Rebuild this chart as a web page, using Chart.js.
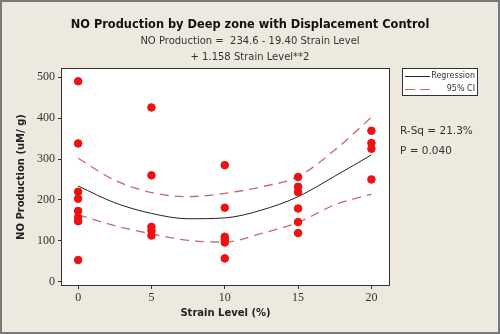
<!DOCTYPE html>
<html>
<head>
<meta charset="utf-8">
<script src="https://cdn.jsdelivr.net/npm/chart.js@4"></script>
<style>
  html, body { margin: 0; padding: 0; background: #ede9df; }
</style>
</head>
<body>
<canvas id="chart" width="500" height="334"></canvas>
<script>
// observed NO production per strain level
var strainLevel = [0, 0, 0, 0, 0, 0, 0, 0,
                   5, 5, 5, 5, 5,
                   10, 10, 10, 10, 10, 10,
                   15, 15, 15, 15, 15, 15,
                   20, 20, 20, 20];
var noProduction = [490, 338, 220, 203, 173, 157, 148, 53,
                    426, 260, 134, 125, 113,
                    285, 181, 110, 103, 96, 57,
                    256, 232, 219, 179, 146, 119,
                    369, 339, 325, 250];

// fitted line and 95% CI
var fitX = [0, 2.5, 5, 7.5, 10, 12.5, 15, 17.5, 20];
var fitY = [234, 193, 167, 154, 156, 175, 208, 258, 310];
var ciUpper = [302, 248, 218, 208, 216, 232, 257, 322, 402];
var ciLower = [164, 137, 117, 101, 97, 118, 145, 188, 214];

var xTicks = [0, 5, 10, 15, 20];
var yTicks = [0, 100, 200, 300, 400, 500];

function pts(xs, ys) {
  return xs.map((x, i) => ({x: x, y: ys[i]}));
}

var tickFont = {family: "'Liberation Serif', serif", size: 12};
var sans = "'DejaVu Sans', sans-serif";

var decor = {
  id: 'decor',
  beforeDraw(chart) {
    var ctx = chart.ctx, a = chart.chartArea;
    ctx.save();
    ctx.fillStyle = '#ede9df';
    ctx.fillRect(0, 0, chart.width, chart.height);
    ctx.strokeStyle = '#7a7a7a';
    ctx.lineWidth = 2;
    ctx.strokeRect(1, 1, chart.width - 2, chart.height - 2);
    ctx.fillStyle = '#ffffff';
    ctx.fillRect(a.left, a.top, a.right - a.left, a.bottom - a.top);
    ctx.restore();
  },
  afterDraw(chart) {
    var ctx = chart.ctx, a = chart.chartArea;
    ctx.save();
    ctx.strokeStyle = '#333';
    ctx.lineWidth = 1;
    ctx.strokeRect(a.left - 0.5, a.top - 0.5, a.right - a.left + 1, a.bottom - a.top + 1);

    ctx.fillStyle = '#111';
    ctx.textAlign = 'center';
    ctx.textBaseline = 'middle';
    ctx.font = "bold 11.4px " + sans;
    ctx.fillText('NO Production by Deep zone with Displacement Control', 250, 25);
    ctx.font = "10px " + sans;
    ctx.fillStyle = '#333';
    ctx.fillText('NO Production =  234.6 - 19.40 Strain Level', 250, 41);
    ctx.fillText('+ 1.158 Strain Level**2', 250, 57);

    // legend box
    ctx.fillStyle = '#fff';
    ctx.fillRect(402.5, 68.5, 75, 27);
    ctx.strokeStyle = '#333';
    ctx.strokeRect(402.5, 68.5, 75, 27);
    ctx.strokeStyle = '#222';
    ctx.beginPath(); ctx.moveTo(405, 76.5); ctx.lineTo(430, 76.5); ctx.stroke();
    ctx.strokeStyle = '#c46a6a';
    ctx.setLineDash([10, 5]);
    ctx.beginPath(); ctx.moveTo(405, 89.5); ctx.lineTo(430, 89.5); ctx.stroke();
    ctx.setLineDash([]);
    ctx.fillStyle = '#333';
    ctx.textAlign = 'right';
    ctx.font = "8px " + sans;
    ctx.fillText('Regression', 475, 76);
    ctx.fillText('95% CI', 475, 89);

    ctx.textAlign = 'left';
    ctx.font = "10.5px " + sans;
    ctx.fillText('R-Sq = 21.3%', 400, 131);
    ctx.fillText('P = 0.040', 400, 151);
    ctx.restore();
  }
};

new Chart(document.getElementById('chart'), {
  type: 'scatter',
  data: {
    datasets: [
      {
        data: pts(strainLevel, noProduction),
        backgroundColor: '#ee1111',
        borderColor: '#ee1111',
        pointRadius: 3.8,
        order: 0
      },
      {
        data: pts(fitX, fitY),
        showLine: true,
        borderColor: '#222',
        borderWidth: 1,
        pointRadius: 0,
        cubicInterpolationMode: 'monotone',
        order: 1
      },
      {
        data: pts(fitX, ciUpper),
        showLine: true,
        borderColor: '#c46a6a',
        borderWidth: 1.3,
        borderDash: [9, 6],
        pointRadius: 0,
        cubicInterpolationMode: 'monotone',
        order: 2
      },
      {
        data: pts(fitX, ciLower),
        showLine: true,
        borderColor: '#c46a6a',
        borderWidth: 1.3,
        borderDash: [9, 6],
        pointRadius: 0,
        cubicInterpolationMode: 'monotone',
        order: 2
      }
    ]
  },
  options: {
    responsive: false,
    animation: false,
    devicePixelRatio: 1,
    layout: { padding: {top: 69, right: 111, left: 0, bottom: 0} },
    plugins: { legend: {display: false}, tooltip: {enabled: false} },
    scales: {
      x: {
        type: 'linear',
        min: -1.1,
        max: 21.2,
        afterBuildTicks: s => { s.ticks = xTicks.map(v => ({value: v})); },
        afterFit: s => { s.height = 49; },
        grid: { drawOnChartArea: false, drawTicks: true, tickLength: 4, color: '#333' },
        border: { display: false },
        ticks: { font: tickFont, color: '#333', padding: 2, maxRotation: 0 },
        title: { display: true, text: 'Strain Level (%)', color: '#222',
                 font: {family: sans, size: 10, weight: 'bold'}, padding: {bottom: 15} }
      },
      y: {
        min: -8,
        max: 520,
        afterBuildTicks: s => { s.ticks = yTicks.map(v => ({value: v})); },
        afterFit: s => { s.width = 62; },
        grid: { drawOnChartArea: false, drawTicks: true, tickLength: 4, color: '#333' },
        border: { display: false },
        ticks: { font: tickFont, color: '#333', padding: 3 },
        title: { display: true, text: 'NO Production (uM/ g)', color: '#222',
                 font: {family: sans, size: 10, weight: 'bold'}, padding: {top: 15} }
      }
    }
  },
  plugins: [decor]
});
</script>
</body>
</html>
